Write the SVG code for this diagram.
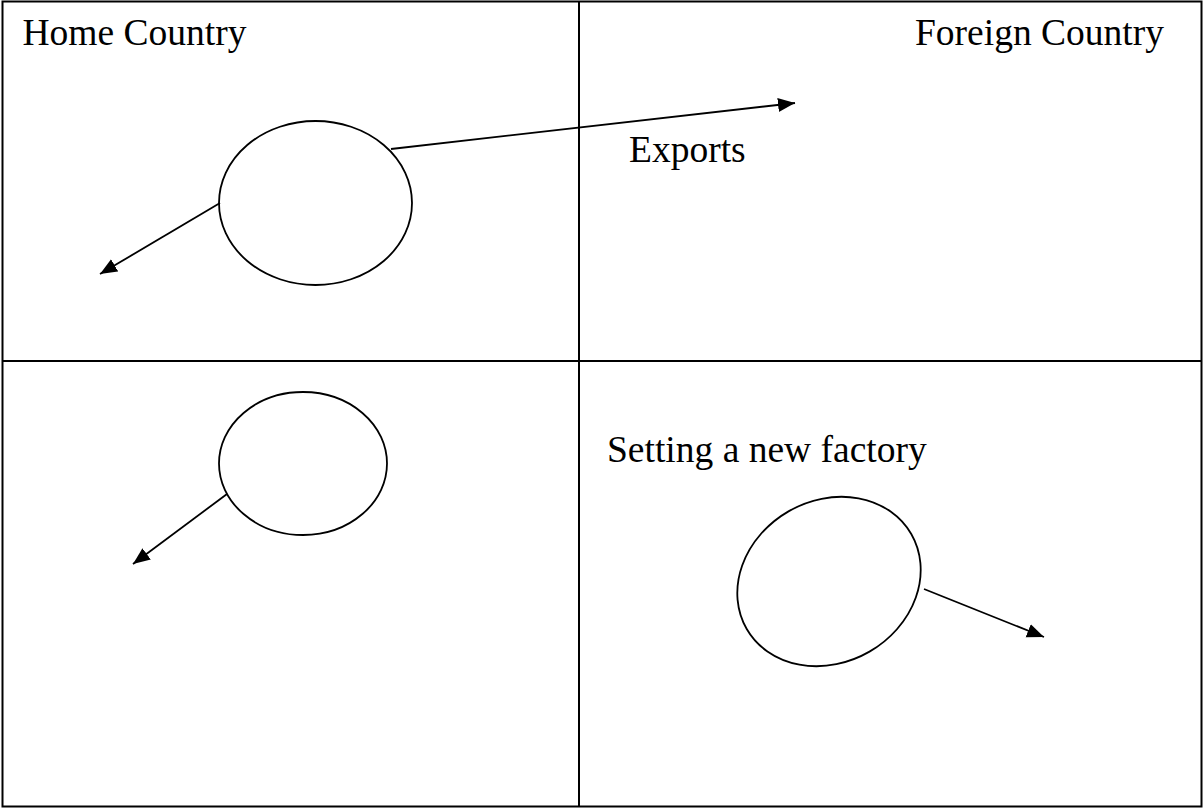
<svg xmlns="http://www.w3.org/2000/svg" width="1204" height="809" viewBox="0 0 1204 809">
<style>
.frame{fill:none;stroke:#000;stroke-width:2}
.node{fill:none;stroke:#000;stroke-width:1.8}
.conn{fill:none;stroke:#000;stroke-width:1.8;marker-end:url(#ah)}
.lbl{font-family:"Liberation Serif","Times New Roman",serif;font-size:37.5px;fill:#000}
</style>
<defs>
<marker id="ah" markerUnits="userSpaceOnUse" markerWidth="19" markerHeight="15" refX="17" refY="7" orient="auto">
<path d="M0,0 L17,7 L0,14 z" fill="#000"/>
</marker>
</defs>
<rect width="1204" height="809" fill="#fff"/>
<g id="frame">
<rect class="frame" x="2.5" y="1.5" width="1199" height="805"/>
<line class="frame" x1="579" y1="1.5" x2="579" y2="806.5"/>
<line class="frame" x1="2.5" y1="361" x2="1201.5" y2="361"/>
</g>
<g id="labels">
<text class="lbl" x="22.5" y="45">Home Country</text>
<text class="lbl" x="915" y="45">Foreign Country</text>
<text class="lbl" x="629" y="162">Exports</text>
<text class="lbl" x="607" y="462">Setting a new factory</text>
</g>
<g id="node-home-top"><ellipse class="node" cx="315.5" cy="203" rx="96.5" ry="82"/></g>
<g id="node-home-bottom"><ellipse class="node" cx="303" cy="463.5" rx="84" ry="71.5"/></g>
<g id="node-foreign-factory"><ellipse class="node" cx="829" cy="581.5" rx="95" ry="81" transform="rotate(-30 829 581.5)"/></g>
<g id="connectors">
<line class="conn" x1="391" y1="149" x2="795" y2="103"/>
<line class="conn" x1="220" y1="203" x2="100" y2="274"/>
<line class="conn" x1="227" y1="494" x2="133" y2="564"/>
<line class="conn" x1="924" y1="589" x2="1044" y2="637"/>
</g>
</svg>
